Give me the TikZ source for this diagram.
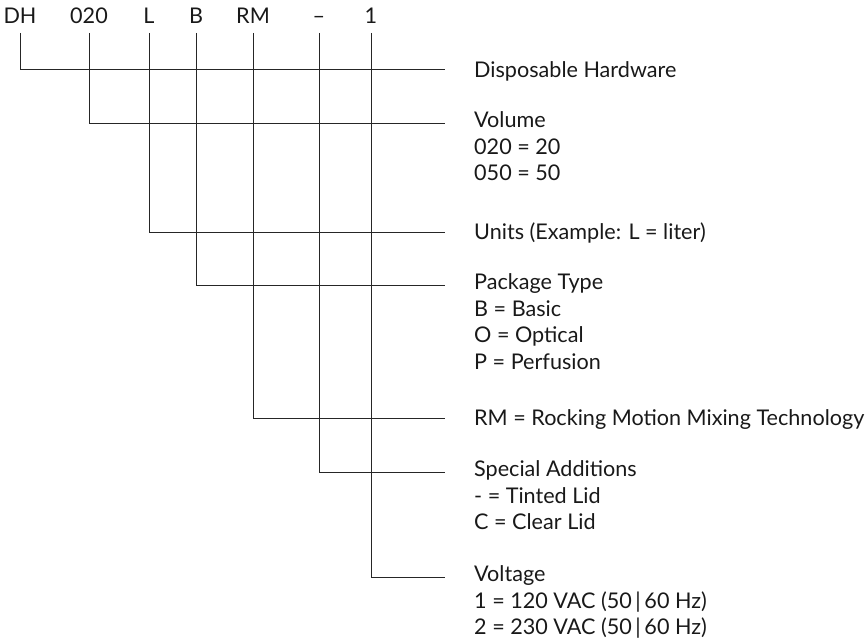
\documentclass[tikz,border=0pt]{standalone}
\usepackage{fontspec}
\setmainfont{Lato}
\usepackage{tikz}

\begin{document}
\begin{tikzpicture}[
  x=1pt, y=-1pt,
  font=\fontsize{21.6}{26.5}\selectfont,
  code/.style={
    anchor=south,
    inner xsep=0pt,
    inner ysep=9pt,
    text depth=0pt,
    text=black!90
  },
  desc/.style={
    anchor=north west,
    align=left,
    inner sep=0pt,
    execute at begin node=\strut,
    text=black!90
  },
  lead/.style={draw=black!85, line width=1pt}
]
  \useasboundingbox (0,0) rectangle (868,642);

  % type code
  \node[code] (dh) at (20,33) {DH};
  \node[code] (vol) at (89,33) {020};
  \node[code] (unit) at (149,33) {L};
  \node[code] (pkg) at (196,33) {B};
  \node[code] (rm) at (253,33) {RM};
  \node[code] (add) at (319,33) {--};
  \node[code] (volt) at (371,33) {1};

  % line ends
  \coordinate (e1) at (445,70);
  \coordinate (e2) at (445,123);
  \coordinate (e3) at (445,232);
  \coordinate (e4) at (445,285);
  \coordinate (e5) at (445,418);
  \coordinate (e6) at (445,472);
  \coordinate (e7) at (445,577);

  % descriptions (top = baseline - strut height)
  \node[desc] (t1) at (474,58.5) {Disposable Hardware};
  \node[desc] (t2) at (474,111.5) {Volume\\020 = 20\\050 = 50};
  \node[desc] (t3) at (474,220.5) {Units (Example: L = liter)};
  \node[desc] (t4) at (474,273.5) {Package Type\\B = Basic\\O = Optical\\P = Perfusion};
  \node[desc] (t5) at (474,406.5) {RM = Rocking Motion Mixing Technology};
  \node[desc] (t6) at (474,460.5) {Special Additions\\- = Tinted Lid\\C = Clear Lid};
  \node[desc] (t7) at (474,565.5) {Voltage\\1 = 120 VAC (50\,|\,60 Hz)\\2 = 230 VAC (50\,|\,60 Hz)};

  \draw[lead] (dh.south) |- (e1);
  \draw[lead] (vol.south) |- (e2);
  \draw[lead] (unit.south) |- (e3);
  \draw[lead] (pkg.south) |- (e4);
  \draw[lead] (rm.south) |- (e5);
  \draw[lead] (add.south) |- (e6);
  \draw[lead] (volt.south) |- (e7);
\end{tikzpicture}
\end{document}
